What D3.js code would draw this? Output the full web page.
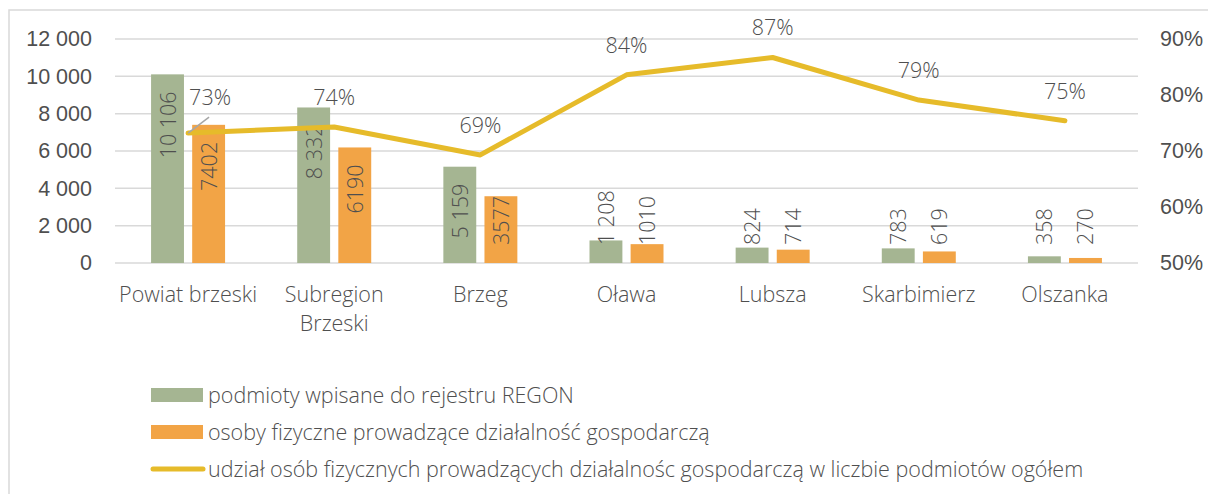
<!DOCTYPE html>
<html lang="pl">
<head>
<meta charset="UTF-8">
<title>Podmioty REGON</title>
<script src="https://d3js.org/d3.v7.min.js"></script>
<style>
  body { margin: 0; background: #fff; }
  svg { display: block; font-family: 'Open Sans', sans-serif; font-weight: 300; }
  .tick text, .lbl { fill: #4f4f4f; font-size: 21.5px; }
  .grid line { stroke: #d9d9d9; stroke-width: 1.5; }
</style>
</head>
<body>
<svg id="chart" width="1208" height="494"></svg>
<script>
// data
const categories = ["Powiat brzeski", "Subregion Brzeski", "Brzeg", "Oława", "Lubsza", "Skarbimierz", "Olszanka"];
const regon = [10106, 8332, 5159, 1208, 824, 783, 358];
const osoby = [7402, 6190, 3577, 1010, 714, 619, 270];
const udzial = [0.732, 0.743, 0.693, 0.836, 0.867, 0.791, 0.754];
const leftTicks = [0, 2000, 4000, 6000, 8000, 10000, 12000];
const rightTicks = [0.5, 0.6, 0.7, 0.8, 0.9];
const seriesNames = [
  "podmioty wpisane do rejestru REGON",
  "osoby fizyczne prowadzące działalność gospodarczą",
  "udział osób fizycznych prowadzących działalnośc gospodarczą w liczbie podmiotów ogółem"
];
const colors = ["#a5b592", "#f2a446", "#e6bb2a"];

const svg = d3.select("#chart");
const margin = { top: 39, left: 115, right: 70 };
const plotW = 1138 - margin.left;
const plotH = 263 - margin.top;

// chart border (Excel chart area)
svg.append("rect")
  .attr("x", 9).attr("y", 10).attr("width", 1210).attr("height", 500)
  .attr("fill", "none").attr("stroke", "#d9d9d9").attr("stroke-width", 1.5);

const g = svg.append("g").attr("transform", `translate(${margin.left},${margin.top})`);

const x = d3.scaleBand().domain(categories).range([0, plotW]);
const x1 = d3.scaleBand().domain([0, 1]).range([-37, 37]).paddingInner(0.2);
const y = d3.scaleLinear().domain([0, 12000]).range([plotH, 0]);
const y2 = d3.scaleLinear().domain([0.5, 0.9]).range([plotH, 0]);

const fmt = v => d3.format(",")(v).replace(/,/g, " ");

// gridlines
g.append("g").attr("class", "grid")
  .selectAll("line").data(leftTicks).join("line")
  .attr("x1", 0).attr("x2", plotW)
  .attr("y1", d => y(d)).attr("y2", d => y(d));

// left axis
const ax = g.append("g")
  .call(d3.axisLeft(y).tickValues(leftTicks).tickFormat(fmt).tickSize(0).tickPadding(23));
ax.select(".domain").remove();

// right axis
const ax2 = g.append("g").attr("transform", `translate(${plotW},0)`)
  .call(d3.axisRight(y2).tickValues(rightTicks).tickFormat(d3.format(".0%")).tickSize(0).tickPadding(22));
ax2.select(".domain").remove();

// category labels
const catG = g.append("g");
categories.forEach(c => {
  const words = c === "Subregion Brzeski" ? ["Subregion", "Brzeski"] : [c];
  const t = catG.append("text").attr("class", "lbl")
    .attr("text-anchor", "middle")
    .attr("x", x(c) + x.bandwidth() / 2)
    .attr("y", plotH + 39);
  words.forEach((w, i) => t.append("tspan")
    .attr("x", x(c) + x.bandwidth() / 2)
    .attr("dy", i === 0 ? 0 : 29).text(w));
});

// bars
const series = [regon, osoby];
series.forEach((vals, s) => {
  const gs = g.append("g");
  gs.selectAll("rect").data(vals).join("rect")
    .attr("x", (d, i) => x(categories[i]) + x.bandwidth() / 2 + x1(s))
    .attr("y", d => y(d))
    .attr("width", x1.bandwidth())
    .attr("height", d => plotH - y(d))
    .attr("fill", colors[s]);

  // rotated value labels
  gs.selectAll("text").data(vals).join("text")
    .attr("class", "lbl")
    .attr("text-anchor", "end")
    .text(d => s === 0 ? fmt(d) : String(d))
    .each(function (d, i) {
      const len = this.getComputedTextLength();
      const top = Math.min(y(d) + 17, plotH - 18 - len);
      const cx = x(categories[i]) + x.bandwidth() / 2 + x1(s) + x1.bandwidth() / 2;
      d3.select(this).attr("transform", `translate(${cx + 8},${top}) rotate(-90)`);
    });
});

// line
const pts = udzial.map((v, i) => [x(categories[i]) + x.bandwidth() / 2, y2(v)]);
g.append("path")
  .attr("d", d3.line()(pts))
  .attr("fill", "none")
  .attr("stroke", colors[2])
  .attr("stroke-width", 5)
  .attr("stroke-linecap", "round")
  .attr("stroke-linejoin", "round");

// percent labels
udzial.forEach((v, i) => {
  const [px, py] = pts[i];
  const dx = i === 0 ? 22 : 0;
  if (i === 0) {
    g.append("line")
      .attr("x1", px).attr("y1", py)
      .attr("x2", px + 21).attr("y2", py - 16)
      .attr("stroke", "#a6a6a6").attr("stroke-width", 1.5);
  }
  g.append("text").attr("class", "lbl")
    .attr("text-anchor", "middle")
    .attr("x", px + dx)
    .attr("y", py - (i === 0 ? 36 : 30) + 8)
    .text(d3.format(".0%")(v));
});

// legend
const leg = svg.append("g").attr("transform", "translate(151,395)");
seriesNames.forEach((name, i) => {
  const row = leg.append("g").attr("transform", `translate(0,${i * 37})`);
  if (i < 2) {
    row.append("rect").attr("x", 0).attr("y", -7).attr("width", 52).attr("height", 14).attr("fill", colors[i]);
  } else {
    row.append("line").attr("x1", 2).attr("x2", 52).attr("y1", 0).attr("y2", 0)
      .attr("stroke", colors[i]).attr("stroke-width", 5).attr("stroke-linecap", "round");
  }
  row.append("text").attr("class", "lbl").attr("x", 57).attr("y", 7.5).text(name);
});
</script>
</body>
</html>
